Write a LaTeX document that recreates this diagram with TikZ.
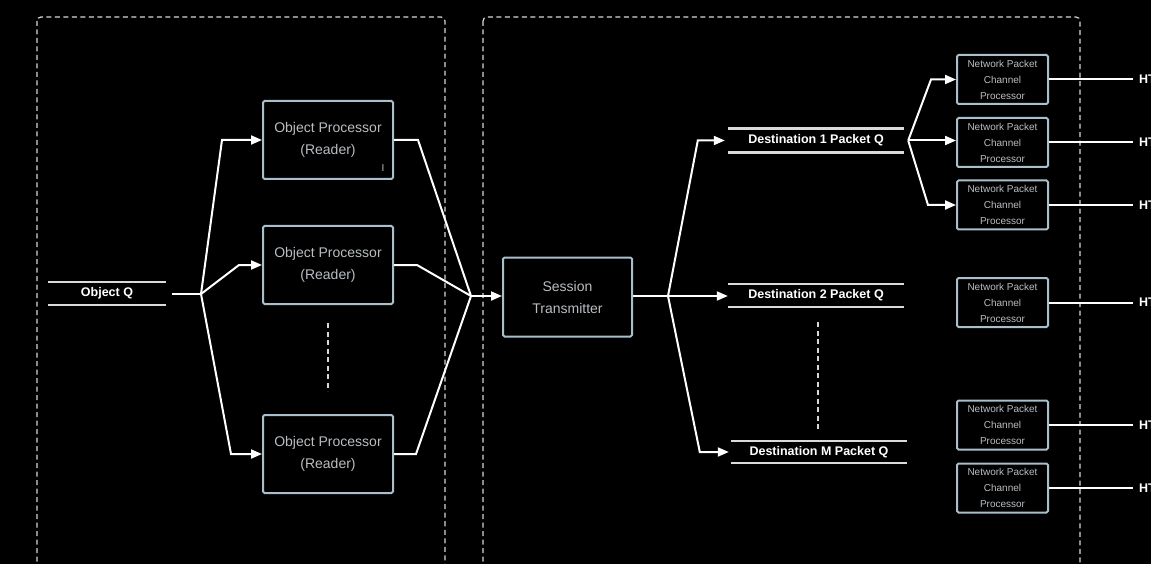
\documentclass[tikz,border=0pt]{standalone}
\usepackage{fontspec}
\setmainfont{Liberation Sans}
\usetikzlibrary{arrows.meta,positioning}

\definecolor{boxline}{HTML}{A9BFCB}
\definecolor{boxtext}{HTML}{B9BEC2}
\definecolor{qline}{HTML}{DADADA}
\definecolor{dashline}{HTML}{D8D8D8}

\begin{document}
\begin{tikzpicture}
%Reader and transmitter pipeline
	[
	 x=1pt, y=-1pt,
	 %Styles
	 link/.style={draw=white, line width=2pt},
	 flow/.style={link, -{Triangle[length=11pt,width=9pt]}},
	 proc_node/.style={rectangle, draw=boxline, line width=2pt, rounded corners=1.5pt, text=boxtext, align=center, inner sep=0pt, minimum width=130, minimum height=78, font=\fontsize{14}{22}\selectfont},
	 np_node/.style={proc_node, minimum width=91, minimum height=49, font=\fontsize{10}{16}\selectfont},
	 queue_node/.style={rectangle, inner sep=0pt, minimum height=23, text=white, font=\bfseries\fontsize{12.5}{15}\selectfont},
	 queue_line/.style={draw=qline, line width=2.5pt},
	 group_node/.style={draw=dashline, line width=1.2pt, dash pattern=on 5pt off 3.5pt, rounded corners=4pt},
	 dots_line/.style={draw=dashline, line width=1.2pt, dash pattern=on 5pt off 3.5pt},
	 out_label/.style={anchor=west, inner xsep=6pt, inner ysep=0pt, text=white, font=\bfseries\fontsize{12.5}{15}\selectfont}
	]

	%Canvas
	\useasboundingbox (0,0) rectangle (1151,564);
	\clip (0,0) rectangle (1151,564);
	\fill[black] (0,0) rectangle (1151,564);

	%Groups
	\draw[group_node] (37,17) rectangle (445,590);
	\draw[group_node] (483,17) rectangle (1080,590);

	%Node placement
	\node (objq) [queue_node, minimum width=118] at (107,293.5) {Object Q};
	\node (op1) [proc_node] at (328,140) {Object Processor\\(Reader)};
	\node (op2) [proc_node] at (328,265) {Object Processor\\(Reader)};
	\node (op3) [proc_node] at (328,454) {Object Processor\\(Reader)};
	\node (mark) [text=boxtext, inner sep=0pt, font=\fontsize{10}{10}\selectfont] at (383,168) {I};
	\node (sess) [proc_node, minimum width=129, minimum height=79] at (567.5,297) {Session\\Transmitter};
	\node (dest1) [queue_node, minimum width=176, minimum height=24] at (816,140.5) {Destination 1 Packet Q};
	\node (dest2) [queue_node, minimum width=176] at (816,295.5) {Destination 2 Packet Q};
	\node (destm) [queue_node, minimum width=176, minimum height=22] at (819,452) {Destination M Packet Q};

	\foreach \q in {objq,dest1,dest2,destm}
		\draw[queue_line] (\q.north west) -- (\q.north east) (\q.south west) -- (\q.south east);

	%Split and merge points
	\coordinate (split1) at (201,294);
	\coordinate (merge) at (471,296);
	\coordinate (split2) at (668,296);
	\coordinate (split3) at ([xshift=4]dest1.east);

	%Edges
	\draw[link] ([xshift=6]objq.east |- split1) -- (split1);
	\draw[flow] (split1) -- ([xshift=-40]op1.west) -- (op1.west);
	\draw[flow] (split1) -- ([xshift=-23]op2.west) -- (op2.west);
	\draw[flow] (split1) -- ([xshift=-31]op3.west) -- (op3.west);
	\draw[link] (op1.east) -- ([xshift=24]op1.east) -- (merge);
	\draw[link] (op2.east) -- ([xshift=23]op2.east) -- (merge);
	\draw[link] (op3.east) -- ([xshift=22]op3.east) -- (merge);
	\draw[flow] (merge) -- (merge -| sess.west);
	\draw[dots_line] ([yshift=-18]op2.south) -- ([yshift=23]op3.north);

	\draw[link] (sess.east |- split2) -- (split2);
	\draw[flow] (split2) -- ([xshift=-30]dest1.west) -- ([xshift=-3]dest1.west);
	\draw[flow] (split2) -- (split2 -| dest2.west);
	\draw[flow] (split2) -- ([xshift=-31]destm.west) -- ([xshift=-2]destm.west);
	\draw[dots_line] ([xshift=2,yshift=-15]dest2.south) -- ([xshift=-1,yshift=11]destm.north);

	\foreach \n/\y in {1/79.5,2/142.5,3/205,4/302.5,5/425,6/488}{
		\node (np\n) [np_node] at (1002.5,\y) {Network Packet\\Channel\\Processor};
		\node (ht\n) [out_label] at (1133,\y) {HT};
		\draw[link] (np\n.east) -- (ht\n.west);
	}

	\draw[flow] (split3) -- ([xshift=-25]np1.west) -- (np1.west);
	\draw[flow] (split3) -- (split3 -| np2.west);
	\draw[flow] (split3) -- ([xshift=-28]np3.west) -- (np3.west);
\end{tikzpicture}
\end{document}
